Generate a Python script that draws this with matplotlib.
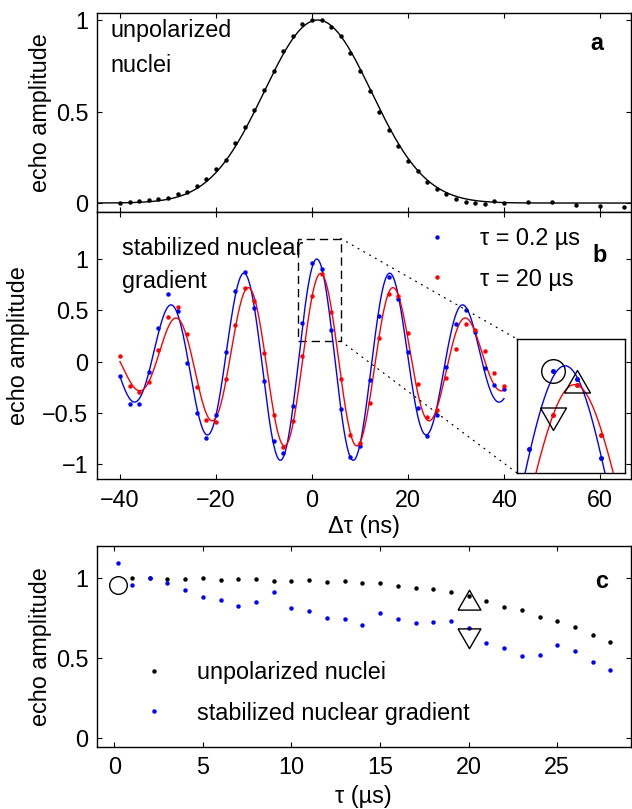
import numpy as np
import matplotlib.pyplot as plt
from matplotlib.patches import Rectangle, ConnectionPatch

plt.rcParams['font.family'] = ['Liberation Sans', 'DejaVu Sans']
plt.rcParams['font.size'] = 16.8
plt.rcParams['axes.linewidth'] = 1.0
plt.rcParams['xtick.direction'] = 'in'
plt.rcParams['ytick.direction'] = 'in'
plt.rcParams['xtick.top'] = True
plt.rcParams['ytick.right'] = True
plt.rcParams['xtick.major.size'] = 3.8
plt.rcParams['ytick.major.size'] = 3.8
plt.rcParams['xtick.major.pad'] = 7
plt.rcParams['ytick.major.pad'] = 6

# ---- panel a: unpolarized nuclei, echo vs delta tau (ns)
dt_a = [-40, -38, -36, -34, -32, -30, -28, -26, -24, -22, -20, -18, -16, -14, -12,
        -10, -8, -6, -4, -2, 0, 2, 4, 6, 8, 10, 12, 14, 16, 18, 20, 22, 24, 26, 28,
        30, 32, 34, 36, 38, 40, 45, 50, 55, 60, 65]
amp_a = [0.002, 0.007, 0.011, 0.015, 0.020, 0.026, 0.048, 0.059, 0.094, 0.133, 0.184,
         0.236, 0.330, 0.416, 0.510, 0.620, 0.720, 0.830, 0.910, 0.976, 1.000, 1.000,
         0.963, 0.910, 0.820, 0.720, 0.610, 0.497, 0.400, 0.310, 0.232, 0.173, 0.116,
         0.074, 0.050, 0.024, 0.007, 0.002, -0.005, 0.009, 0.002, 0.006, 0.004,
         -0.009, -0.017, -0.022]
# gaussian fit (center, sigma)
fit_a_center, fit_a_sigma = 1.2, 11.2

# ---- panel b: stabilized gradient, tau = 0.2 us (blue) and 20 us (red)
dt_b = [-40, -38, -36, -34, -32, -30, -28, -26, -24, -22, -20, -18, -16, -14, -12,
        -10, -8, -6, -4, -2, 0, 2, 4, 6, 8, 10, 12, 14, 16, 18, 20, 22, 24, 26, 28,
        30, 32, 34, 36, 38, 40]
amp_blue = [-0.145, -0.41, -0.41, -0.10, 0.33, 0.655, 0.49, -0.016, -0.50, -0.75,
            -0.52, 0.09, 0.69, 0.87, 0.52, -0.19, -0.78, -0.89, -0.43, 0.38, 0.96,
            0.90, 0.31, -0.46, -0.93, -0.82, -0.18, 0.445, 0.82, 0.61, 0.097, -0.455,
            -0.73, -0.52, -0.05, 0.37, 0.50, 0.29, -0.06, -0.23, -0.27]
amp_red = [0.058, -0.24, -0.30, -0.20, 0.11, 0.43, 0.53, 0.265, -0.25, -0.575, -0.59,
           -0.17, 0.36, 0.72, 0.59, 0.087, -0.52, -0.83, -0.58, 0.055, 0.635, 0.855,
           0.48, -0.17, -0.72, -0.79, -0.40, 0.23, 0.655, 0.635, 0.275, -0.215, -0.54,
           -0.47, -0.16, 0.12, 0.365, 0.305, 0.10, -0.11, -0.235]
# fit: amplitude, center, envelope sigma, period (ns)
fit_blue = (1.0, 1.0, 28.0, 15.3)
fit_red = (0.86, 1.8, 25.5, 15.2)
labels_b = ['\u03c4 = 0.2 \u00b5s', '\u03c4 = 20 \u00b5s']

# zoom box and its markers
zoom_x = (-3, 6)
zoom_y = (0.2, 1.2)
inset_circle = (0.0, 0.96)
inset_up = (2.0, 0.854)
inset_down = (0.0, 0.635)

# ---- panel c: echo amplitude vs tau (us)
tau_black = [1, 2, 3, 4, 5, 6, 7, 8, 9, 10, 11, 12, 13, 14, 15, 16, 17, 18, 19, 20,
             21, 22, 23, 24, 25, 26, 27, 28]
amp_black = [1.004, 1.000, 0.998, 0.998, 1.000, 0.990, 0.996, 0.994, 0.985, 0.985,
             0.988, 0.979, 0.983, 0.973, 0.971, 0.952, 0.940, 0.933, 0.915, 0.888,
             0.860, 0.820, 0.800, 0.760, 0.735, 0.696, 0.644, 0.602]
tau_blue = [0.2, 1, 2, 3, 4, 5, 6, 7, 8, 9, 10, 11, 12, 13, 14, 15, 16, 17, 18, 19,
            20, 21, 22, 23, 24, 25, 26, 27, 28]
amp_blue_c = [1.098, 0.958, 1.002, 0.973, 0.927, 0.883, 0.865, 0.827, 0.852, 0.912,
              0.8125, 0.796, 0.754, 0.748, 0.708, 0.781, 0.744, 0.723, 0.725, 0.733,
              0.6875, 0.598, 0.567, 0.5125, 0.521, 0.581, 0.544, 0.477, 0.427]
labels_c = ['unpolarized nuclei', 'stabilized nuclear gradient']
c_circle = (0.2, 0.958)
c_up = (20.0, 0.8475)
c_down = (20.0, 0.643)

# closed equilateral triangles (matlab style)
tri_up = [(-0.866, -0.5), (0.866, -0.5), (0.0, 1.0), (-0.866, -0.5)]
tri_down = [(-0.866, 0.5), (0.866, 0.5), (0.0, -1.0), (-0.866, 0.5)]
BLUE = (0, 0, 1)
RED = (1, 0, 0)


def osc(x, p):
    a, x0, s, T = p
    return a * np.exp(-(x - x0) ** 2 / (2 * s ** 2)) * np.cos(2 * np.pi * (x - x0) / T)


fig = plt.figure(figsize=(6.32, 8.09), dpi=100)
L, W = 96.7 / 632, 533.8 / 632
ax_a = fig.add_axes([L, 1 - 212 / 809, W, 199.3 / 809])
ax_b = fig.add_axes([L, 1 - 479.3 / 809, W, 267.3 / 809])
ax_c = fig.add_axes([L, 1 - 746.7 / 809, W, 200.7 / 809])

# panel a
xa = np.linspace(-45, 67, 600)
ax_a.plot(xa, np.exp(-(xa - fit_a_center) ** 2 / (2 * fit_a_sigma ** 2)), color='k', lw=1)
ax_a.plot(dt_a, amp_a, 'o', color='k', ms=3.2, mew=0)
ax_a.set_xlim(-44.85, 66.35)
ax_a.set_ylim(-0.049, 1.04)
ax_a.set_xticks([-40, -20, 0, 20, 40, 60])
ax_a.set_xticklabels([])
ax_a.set_yticks([0, 0.5, 1])
ax_a.set_yticklabels(['0', '0.5', '1'])
ax_a.set_ylabel('echo amplitude')
ax_a.yaxis.set_label_coords(-0.084, 0.5)
ax_a.text(0.026, 0.8756, 'unpolarized', transform=ax_a.transAxes, va='baseline')
ax_a.text(0.026, 0.7025, 'nuclei', transform=ax_a.transAxes, va='baseline')
ax_a.text(0.937, 0.813, 'a', transform=ax_a.transAxes, ha='center', va='baseline',
          fontweight='bold')

# panel b
xb = np.linspace(-40, 40, 1200)
ax_b.plot(xb, osc(xb, fit_blue), color=BLUE, lw=1)
ax_b.plot(xb, osc(xb, fit_red), color=RED, lw=1)
ax_b.plot(dt_b, amp_blue, 'o', color=BLUE, ms=3.2, mew=0, label=labels_b[0])
ax_b.plot(dt_b, amp_red, 'o', color=RED, ms=3.2, mew=0, label=labels_b[1])
ax_b.set_xlim(-44.85, 66.35)
ax_b.set_ylim(-1.149, 1.459)
ax_b.set_xticks([-40, -20, 0, 20, 40, 60])
ax_b.set_xticklabels(['\u221240', '\u221220', '0', '20', '40', '60'])
ax_b.set_yticks([-1, -0.5, 0, 0.5, 1])
ax_b.set_yticklabels(['\u22121', '\u22120.5', '0', '0.5', '1'])
ax_b.set_ylabel('echo amplitude')
ax_b.yaxis.set_label_coords(-0.125, 0.5)
ax_b.set_xlabel('\u0394\u03c4 (ns)')
ax_b.xaxis.set_label_coords(0.5, -0.134)
ax_b.text(0.0468, 0.839, 'stabilized nuclear', transform=ax_b.transAxes, va='baseline')
ax_b.text(0.0468, 0.716, 'gradient', transform=ax_b.transAxes, va='baseline')
ax_b.text(0.943, 0.814, 'b', transform=ax_b.transAxes, ha='center', va='baseline',
          fontweight='bold')
ax_b.legend(loc='center left', bbox_to_anchor=(0.594, 0.8245), frameon=False,
            borderaxespad=0, borderpad=0, handlelength=2, handletextpad=0.85,
            labelspacing=0.75)
ax_b.add_patch(Rectangle((zoom_x[0], zoom_y[0]), zoom_x[1] - zoom_x[0],
                         zoom_y[1] - zoom_y[0], fill=False, ec='k', lw=1,
                         ls=(0, (6, 3.5))))

# inset
ax_in = fig.add_axes([517 / 632, 1 - 473 / 809, 108 / 632, 134 / 809])
ax_in.plot(xb, osc(xb, fit_blue), color=BLUE, lw=1)
ax_in.plot(xb, osc(xb, fit_red), color=RED, lw=1)
ax_in.plot(dt_b, amp_blue, 'o', color=BLUE, ms=3.6, mew=0)
ax_in.plot(dt_b, amp_red, 'o', color=RED, ms=3.6, mew=0)
ax_in.plot(*inset_circle, 'o', mfc='none', mec='k', ms=17, mew=1)
ax_in.plot(*inset_up, marker=tri_up, mfc='none', mec='k', ms=21.6, mew=1)
ax_in.plot(*inset_down, marker=tri_down, mfc='none', mec='k', ms=21.6, mew=1)
ax_in.set_xlim(*zoom_x)
ax_in.set_ylim(*zoom_y)
ax_in.set_xticks([])
ax_in.set_yticks([])

for xy_a, xy_b in [((zoom_x[1], zoom_y[1]), (0, 1)), ((zoom_x[1], zoom_y[0]), (0, 0))]:
    con = ConnectionPatch(xyA=xy_a, coordsA=ax_b.transData, xyB=xy_b,
                          coordsB=ax_in.transAxes, color='k', lw=0.9,
                          ls=(0, (0.8, 4.5)))
    fig.add_artist(con)

# panel c
ax_c.plot(tau_black, amp_black, 'o', color='k', ms=3.2, mew=0, label=labels_c[0])
ax_c.plot(tau_blue, amp_blue_c, 'o', color=BLUE, ms=3.2, mew=0, label=labels_c[1])
ax_c.plot(*c_circle, 'o', mfc='none', mec='k', ms=12.7, mew=1)
ax_c.plot(*c_up, marker=tri_up, mfc='none', mec='k', ms=19, mew=1)
ax_c.plot(*c_down, marker=tri_down, mfc='none', mec='k', ms=19, mew=1)
ax_c.set_xlim(-0.99, 29.13)
ax_c.set_ylim(-0.052, 1.202)
ax_c.set_xticks([0, 5, 10, 15, 20, 25])
ax_c.set_yticks([0, 0.5, 1])
ax_c.set_yticklabels(['0', '0.5', '1'])
ax_c.set_ylabel('echo amplitude')
ax_c.yaxis.set_label_coords(-0.084, 0.5)
ax_c.set_xlabel('\u03c4 (\u00b5s)')
ax_c.xaxis.set_label_coords(0.5, -0.191)
ax_c.text(0.945, 0.789, 'c', transform=ax_c.transAxes, ha='center', va='baseline',
          fontweight='bold')
handles, _ = ax_c.get_legend_handles_labels()
ax_c.legend(handles[:2], labels_c, loc='center left', bbox_to_anchor=(0.0637, 0.2686),
            frameon=False, borderaxespad=0, borderpad=0, handlelength=2,
            handletextpad=0.85, labelspacing=0.75)

fig.savefig('out.png', dpi=100)
